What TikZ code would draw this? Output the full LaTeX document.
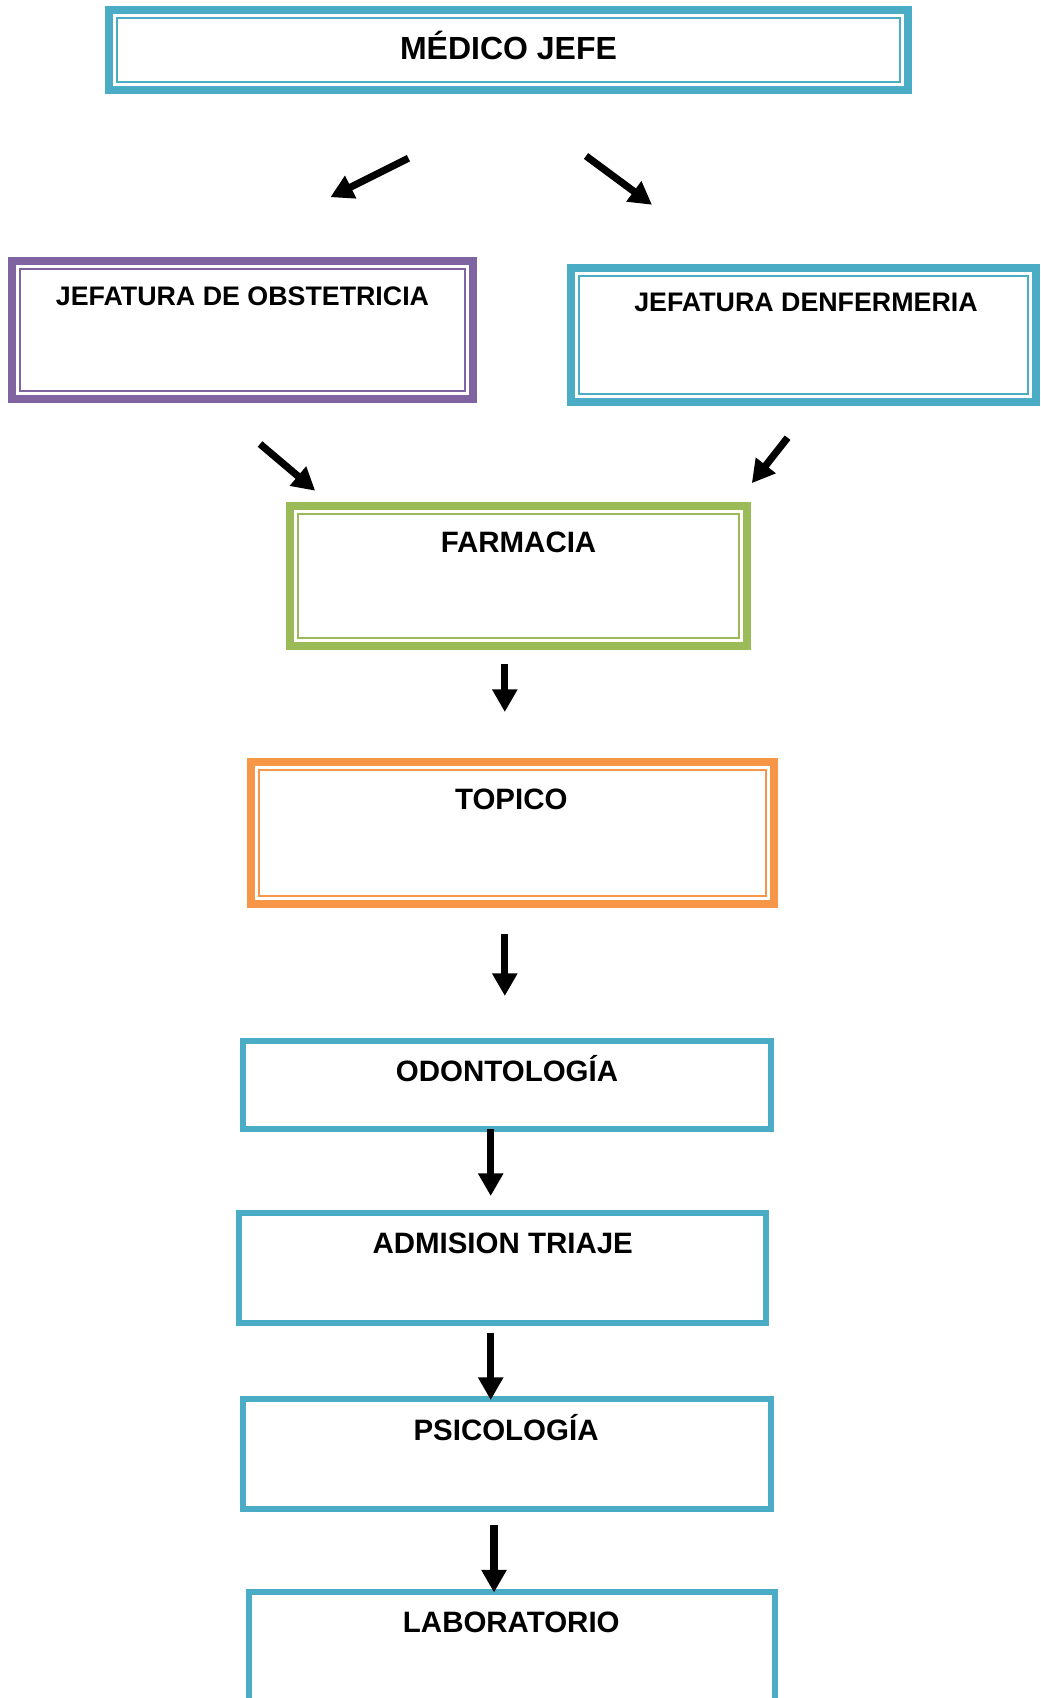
\documentclass[tikz,border=0pt]{standalone}
\usepackage{fontspec}
\setmainfont{Liberation Sans}
\usetikzlibrary{arrows.meta}
\definecolor{cblue}{HTML}{4BACC6}
\definecolor{cpurple}{HTML}{8064A2}
\definecolor{cgreen}{HTML}{9BBB59}
\definecolor{corange}{HTML}{F79646}
\tikzset{
  dbox/.style={draw=#1, line width=6pt, rectangle, inner sep=0pt, outer sep=0pt, fill=white},
  sbox/.style={draw=#1, line width=4.9pt, rectangle, inner sep=0pt, outer sep=0pt, fill=white},
  inline/.style={draw=#1, line width=1.8pt},
  lbl/.style={anchor=base, inner sep=0pt, font=\bfseries\fontsize{22.1pt}{25pt}\selectfont},
  arr/.style={line width=5.4pt, -{Triangle[length=17pt, width=18pt]}},
}
\newcommand{\innerframe}[2]{\draw[inline=#2] ([shift={(8,-8)}]#1.south west) rectangle ([shift={(-8,8)}]#1.north east);}
\begin{document}
\begin{tikzpicture}[x=0.75pt, y=-0.75pt]
\clip (0,0) rectangle (1040,1698);
\fill[white] (0,0) rectangle (1040,1698);
% boxes
\node[dbox=cblue, minimum width=599.25pt, minimum height=60pt] (med) at (508.5,50) {};
\innerframe{med}{cblue}
\node[dbox=cpurple, minimum width=345.75pt, minimum height=103.5pt] (obs) at (242.5,330) {};
\innerframe{obs}{cpurple}
\node[dbox=cblue, minimum width=348.75pt, minimum height=100.5pt] (enf) at (803.5,335) {};
\innerframe{enf}{cblue}
\node[dbox=cgreen, minimum width=342.75pt, minimum height=105pt] (far) at (518.5,576) {};
\innerframe{far}{cgreen}
\node[dbox=corange, minimum width=392.25pt, minimum height=106.5pt] (top) at (512.5,833) {};
\innerframe{top}{corange}
\node[sbox=cblue, minimum width=396pt, minimum height=66pt] (odo) at (507,1085) {};
\node[sbox=cblue, minimum width=395.25pt, minimum height=82.5pt] (adm) at (502.5,1268) {};
\node[sbox=cblue, minimum width=396pt, minimum height=82.5pt] (psi) at (507,1454) {};
\node[sbox=cblue, minimum width=394.5pt, minimum height=126pt] (lab) at (512,1676) {};
% texts
\node[lbl, font=\bfseries\fontsize{24pt}{28pt}\selectfont] (tmed) at (508.5,59.5) {MÉDICO JEFE};
\node[lbl, font=\bfseries\fontsize{20.1pt}{24pt}\selectfont] (tobs) at (242.5,305) {JEFATURA DE OBSTETRICIA};
\node[lbl, font=\bfseries\fontsize{20.1pt}{24pt}\selectfont] (tenf) at (806,311.7) {JEFATURA DENFERMERIA};
\node[lbl] (tfar) at (518.5,552.7) {FARMACIA};
\node[lbl] (ttop) at (511.3,809) {TOPICO};
\node[lbl] (todo) at (507,1081) {ODONTOLOGÍA};
\node[lbl] (tadm) at (502.7,1253) {ADMISION TRIAJE};
\node[lbl] (tpsi) at (506,1440) {PSICOLOGÍA};
\node[lbl] (tlab) at (511.3,1632.6) {LABORATORIO};
% arrow end points
\coordinate (a1s) at (408.4,158.2); \coordinate (a1e) at (330.4,197.2);
\coordinate (a2s) at (586,156);     \coordinate (a2e) at (652,204.8);
\coordinate (a3s) at (260,444);     \coordinate (a3e) at (315.2,490.7);
\coordinate (a4s) at (787.6,437.7); \coordinate (a4e) at (751.8,483.2);
\coordinate (a5s) at (504.8,664);   \coordinate (a5e) at (504.8,712);
\coordinate (a6s) at (504.8,934);   \coordinate (a6e) at (504.8,996);
\coordinate (a7s) at (490.7,1129);  \coordinate (a7e) at (490.7,1196);
\coordinate (a8s) at (490.7,1332.5);\coordinate (a8e) at (490.7,1400);
\coordinate (a9s) at (494,1525.3);  \coordinate (a9e) at (494,1592.5);
\draw[arr] (a1s) -- (a1e);
\draw[arr] (a2s) -- (a2e);
\draw[arr] (a3s) -- (a3e);
\draw[arr] (a4s) -- (a4e);
\draw[arr] (a5s) -- (a5e);
\draw[arr] (a6s) -- (a6e);
\draw[arr] (a7s) -- (a7e);
\draw[arr] (a8s) -- (a8e);
\draw[arr] (a9s) -- (a9e);
\end{tikzpicture}
\end{document}
